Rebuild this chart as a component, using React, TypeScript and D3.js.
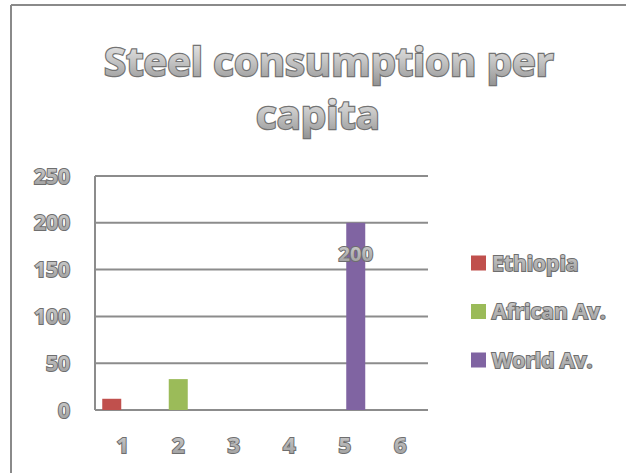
import React from "react";
import * as d3 from "d3";

const categories = ["1", "2", "3", "4", "5", "6"];
const seriesNames = ["Ethiopia", "African Av.", "World Av."];
const ethiopia = [12, 0, 0, 0, 0, 0];
const africanAv = [0, 33, 0, 0, 0, 0];
const worldAv = [0, 0, 0, 0, 200, 0];
const seriesColors = ["#c0504d", "#9bbb59", "#8064a2"];
const yTicks = [0, 50, 100, 150, 200, 250];
const titleLines = ["Steel consumption per", "capita"];

const W = 626;
const H = 473;

export default function App() {
  const seriesValues = [ethiopia, africanAv, worldAv];
  const x = d3.scaleBand<string>().domain(categories).range([95, 428]).padding(0);
  const y = d3.scaleLinear().domain([0, 250]).range([410, 176]);
  const off = d3.scalePoint<string>().domain(seriesNames).range([-11, 11]);
  const barW = 19;
  const font = "'Open Sans', Lato, sans-serif";
  const textStyle = { fill: "url(#txtGrad)", stroke: "#6e6e6e", strokeWidth: 2, paintOrder: "stroke" as const };
  const titleStyle = { fill: "url(#titleGrad)", stroke: "#737373", strokeWidth: 2.4, paintOrder: "stroke" as const };

  return (
    <svg width={W} height={H} style={{ position: "absolute", left: 0, top: 0, background: "#fff" }}>
      <defs>
        <linearGradient id="titleGrad" x1="0" y1="0" x2="0" y2="1">
          <stop offset="0" stopColor="#f6f6f6" />
          <stop offset="0.5" stopColor="#c6c6c6" />
          <stop offset="1" stopColor="#8e8e8e" />
        </linearGradient>
        <linearGradient id="txtGrad" x1="0" y1="0" x2="0" y2="1">
          <stop offset="0" stopColor="#d4d4d4" />
          <stop offset="1" stopColor="#999999" />
        </linearGradient>
      </defs>
      {/* frame */}
      <line x1={11} y1={5} x2={W} y2={5} stroke="#8a8a8a" strokeWidth={2} />
      <line x1={11} y1={5} x2={11} y2={H} stroke="#8a8a8a" strokeWidth={2} />

      {/* title */}
      <text x={329} y={76} textAnchor="middle" fontFamily={font} fontWeight={700} fontSize={40} style={titleStyle}>
        {titleLines[0]}
      </text>
      <text x={318} y={129} textAnchor="middle" fontFamily={font} fontWeight={700} fontSize={40} style={titleStyle}>
        {titleLines[1]}
      </text>

      {/* gridlines */}
      {yTicks.map((t) => (
        <line key={t} x1={95} x2={428} y1={y(t)} y2={y(t)} stroke="#8c8c8c" strokeWidth={2} />
      ))}
      <line x1={95} x2={95} y1={y(250)} y2={y(0)} stroke="#8c8c8c" strokeWidth={2} />

      {/* bars */}
      {seriesValues.map((vals, si) =>
        vals.map((v, ci) =>
          v > 0 ? (
            <rect
              key={`${si}-${ci}`}
              x={(x(categories[ci]) as number) + x.bandwidth() / 2 + (off(seriesNames[si]) as number) - barW / 2}
              y={y(v)}
              width={barW}
              height={y(0) - y(v)}
              fill={seriesColors[si]}
            />
          ) : null
        )
      )}

      {/* data label */}
      {worldAv.map((v, ci) =>
        v >= 100 ? (
          <text
            key={ci}
            x={(x(categories[ci]) as number) + x.bandwidth() / 2 + (off(seriesNames[2]) as number)}
            y={y(v) + 38}
            textAnchor="middle"
            fontFamily={font}
            fontWeight={700}
            fontSize={20}
            style={textStyle}
          >
            {v}
          </text>
        ) : null
      )}

      {/* y labels */}
      {yTicks.map((t) => (
        <text key={t} x={70} y={y(t) + 7.5} textAnchor="end" fontFamily={font} fontWeight={700} fontSize={21} style={textStyle}>
          {t}
        </text>
      ))}

      {/* x labels */}
      {categories.map((c) => (
        <text key={c} x={(x(c) as number) + x.bandwidth() / 2} y={453} textAnchor="middle" fontFamily={font} fontWeight={700} fontSize={22} style={textStyle}>
          {c}
        </text>
      ))}

      {/* legend */}
      {seriesNames.map((s, i) => (
        <g key={s} transform={`translate(471, ${263 + i * 48.5})`}>
          <rect x={0} y={-7.5} width={15} height={15} fill={seriesColors[i]} />
          <text x={21} y={7.5} fontFamily={font} fontWeight={700} fontSize={21} style={textStyle}>
            {s}
          </text>
        </g>
      ))}
    </svg>
  );
}
